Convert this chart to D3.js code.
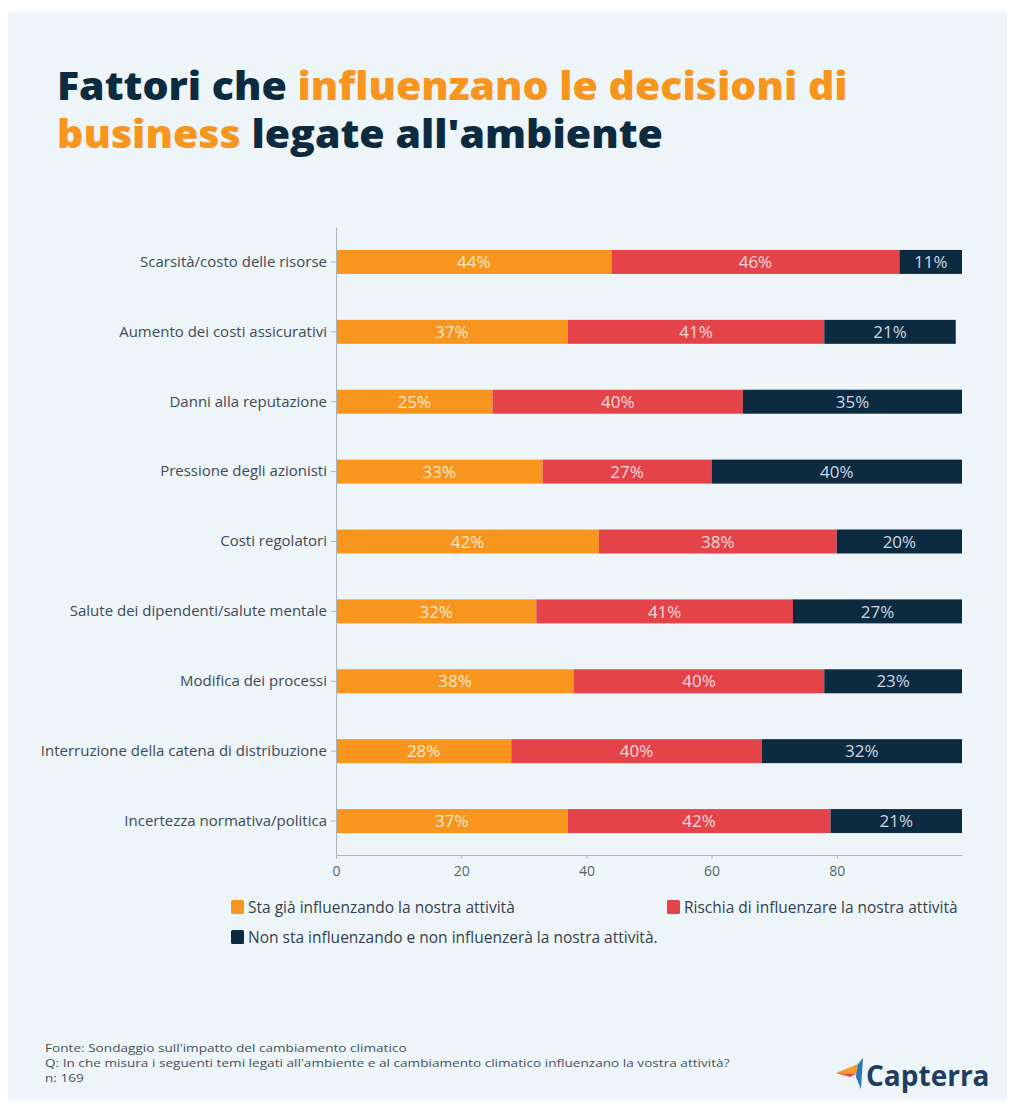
<!DOCTYPE html>
<html>
<head>
<meta charset="utf-8">
<script src="https://cdn.jsdelivr.net/npm/d3@7"></script>
<style>
  html, body { margin: 0; padding: 0; background: #ffffff; }
  svg { display: block; }
  text { font-family: "Open Sans", "Noto Sans", sans-serif; }
</style>
</head>
<body>
<svg id="chart" width="1016" height="1107"></svg>
<script>
// ---------------- DATA ----------------
const categories = [
  "Scarsità/costo delle risorse",
  "Aumento dei costi assicurativi",
  "Danni alla reputazione",
  "Pressione degli azionisti",
  "Costi regolatori",
  "Salute dei dipendenti/salute mentale",
  "Modifica dei processi",
  "Interruzione della catena di distribuzione",
  "Incertezza normativa/politica"
];
const seriesNames = [
  "Sta già influenzando la nostra attività",
  "Rischia di influenzare la nostra attività",
  "Non sta influenzando e non influenzerà la nostra attività."
];
const giaInfluenzando   = [44, 37, 25, 33, 42, 32, 38, 28, 37];
const rischia           = [46, 41, 40, 27, 38, 41, 40, 40, 42];
const nonInfluenzera    = [11, 21, 35, 40, 20, 27, 23, 32, 21];
const xTicks = [0, 20, 40, 60, 80];
const titleLines = [
  [["Fattori che ", "navy"], ["influenzano le decisioni di", "orange"]],
  [["business", "orange"], [" legate all'ambiente", "navy"]]
];
const footnotes = [
  "Fonte: Sondaggio sull'impatto del cambiamento climatico",
  "Q: In che misura i seguenti temi legati all'ambiente e al cambiamento climatico influenzano la vostra attività?",
  "n: 169"
];

// ---------------- STYLE ----------------
const C = { orange: "#f7951e", red: "#e5434a", navy: "#0c2a40" };
const segColors = [C.orange, C.red, C.navy];
const labelColors = ["#fde9cc", "#fbdcdc", "#cdd8e2"];

const svg = d3.select("#chart");

// panel
svg.append("rect").attr("x", 8).attr("y", 11).attr("width", 999).attr("height", 1090)
  .attr("fill", "#eef5f8");

// title
const titleY = [100, 148];
const titleTargets = [791, 606];
titleLines.forEach((line, i) => {
  const t = svg.append("text")
    .attr("font-size", 38).attr("font-weight", 800)
    .attr("x", 0).attr("y", 0);
  line.forEach(([s, c]) => {
    t.append("tspan").text(s).attr("fill", c === "navy" ? C.navy : C.orange);
  });
  const w = t.node().getComputedTextLength();
  const sx = titleTargets[i] / w;
  t.attr("transform", `translate(57,${titleY[i]}) scale(${sx},1)`);
});

// scales
const rows = categories.map((c, i) => ({
  cat: c, a: giaInfluenzando[i], b: rischia[i], c: nonInfluenzera[i]
}));
const keys = ["a", "b", "c"];
const stacked = d3.stack().keys(keys)(rows);

const x = d3.scaleLinear().domain([0, 100]).range([336, 962]).clamp(true);
const y = d3.scaleBand().domain(categories).range([227, 856])
  .paddingInner(0.657).paddingOuter(0.3285);

// bars
const layers = svg.append("g").selectAll("g").data(stacked).join("g")
  .attr("fill", (d, i) => segColors[i]);
layers.selectAll("rect").data(d => d).join("rect")
  .attr("x", d => x(d[0]))
  .attr("y", d => y(d.data.cat))
  .attr("width", d => x(d[1]) - x(d[0]))
  .attr("height", y.bandwidth());

// bar labels
const lab = svg.append("g").selectAll("g").data(stacked).join("g")
  .attr("fill", (d, i) => labelColors[i]);
lab.selectAll("text").data(d => d.map(v => ({ v, key: d.key }))).join("text")
  .attr("x", d => (x(d.v[0]) + x(d.v[1])) / 2)
  .attr("y", d => y(d.v.data.cat) + y.bandwidth() / 2)
  .attr("dy", "0.36em")
  .attr("text-anchor", "middle")
  .attr("font-size", 17)
  .text(d => d.v.data[d.key] + "%");

// axes
const axisColor = "#a9b3bb";
const gy = svg.append("g").attr("transform", "translate(336,0)")
  .call(d3.axisLeft(y).tickSize(5).tickPadding(4).tickSizeOuter(0));
gy.select(".domain").attr("stroke", axisColor);
gy.selectAll(".tick line").attr("stroke", axisColor);
gy.selectAll(".tick text").attr("font-size", 15).attr("fill", "#3e4a56")
  .style("font-family", '"Open Sans", sans-serif');

const gx = svg.append("g").attr("transform", "translate(0,855)")
  .call(d3.axisBottom(x).tickValues(xTicks).tickSize(4).tickPadding(7).tickSizeOuter(0));
gx.select(".domain").attr("stroke", axisColor);
gx.selectAll(".tick line").attr("stroke", axisColor);
gx.selectAll(".tick text").attr("font-size", 14).attr("fill", "#5a646c")
  .style("font-family", '"Open Sans", sans-serif');

// legend
const legendPos = [[231, 900], [667, 900], [231, 930]];
const lg = svg.append("g").selectAll("g").data(seriesNames).join("g")
  .attr("transform", (d, i) => `translate(${legendPos[i][0]},${legendPos[i][1]})`);
lg.append("rect").attr("width", 13).attr("height", 14).attr("rx", 1.5)
  .attr("fill", (d, i) => segColors[i]);
lg.append("text").attr("x", 17).attr("y", 7).attr("dy", "0.36em")
  .attr("font-size", 15.5).attr("fill", "#34404c")
  .text(d => d);

// footnotes (slightly condensed to match the reference width)
const fg = svg.append("g");
const ft = fg.selectAll("text").data(footnotes).join("text")
  .attr("x", 0).attr("y", (d, i) => i * 15)
  .attr("font-size", 11.5).attr("fill", "#45505a")
  .text(d => d);
const fw = ft.nodes()[1].getComputedTextLength();
fg.attr("transform", `translate(45,1052) scale(${685 / fw},1)`);

// Capterra logo
const logo = svg.append("g").attr("transform", "translate(836,1058)");
logo.append("path").attr("d", "M0,15 L22,6 L20,16 Z").attr("fill", "#f89a2c");
logo.append("path").attr("d", "M0,15 L20,16 L14,19 Z").attr("fill", "#e8474b");
logo.append("path").attr("d", "M22,6 L27,0 L25,31 L20,19 Z").attr("fill", "#2d77b5");
logo.append("path").attr("d", "M20,16 L22,6 L20,19 Z").attr("fill", "#1d4f86");
svg.append("text").attr("x", 866).attr("y", 1086)
  .attr("font-size", 28).attr("font-weight", 700).attr("fill", "#1f3d63")
  .text("Capterra");
</script>
</body>
</html>
